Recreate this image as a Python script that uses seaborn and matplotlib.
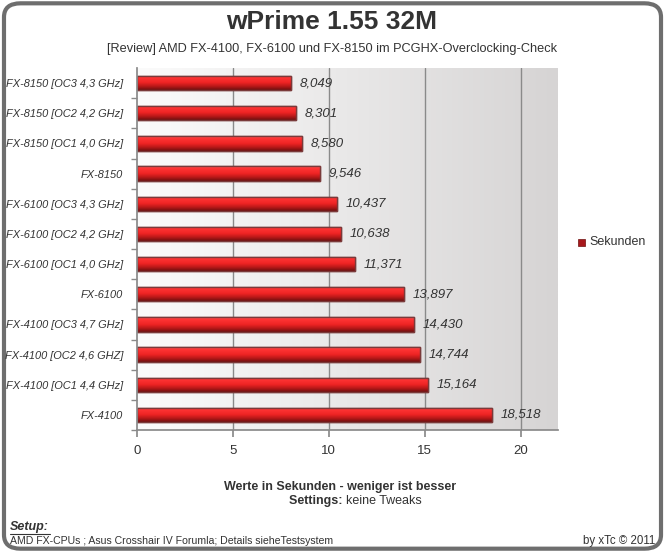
import numpy as np
import pandas as pd
import matplotlib
matplotlib.use("Agg")
import matplotlib.pyplot as plt
import seaborn as sns
from matplotlib.patches import FancyBboxPatch, Rectangle
from matplotlib.colors import LinearSegmentedColormap

categories = [
    "FX-8150 [OC3 4,3 GHz]",
    "FX-8150 [OC2 4,2 GHz]",
    "FX-8150 [OC1 4,0 GHz]",
    "FX-8150",
    "FX-6100 [OC3 4,3 GHz]",
    "FX-6100 [OC2 4,2 GHz]",
    "FX-6100 [OC1 4,0 GHz]",
    "FX-6100",
    "FX-4100 [OC3 4,7 GHz]",
    "FX-4100 [OC2 4,6 GHZ]",
    "FX-4100 [OC1 4,4 GHz]",
    "FX-4100",
]
seconds = [8.049, 8.301, 8.580, 9.546, 10.437, 10.638, 11.371, 13.897,
           14.430, 14.744, 15.164, 18.518]
x_ticks = [0, 5, 10, 15, 20]
series_name = "Sekunden"

df = pd.DataFrame({"cpu": categories, "sec": seconds})

sns.set_theme(style="white")
plt.rcParams["font.family"] = ["Liberation Sans", "DejaVu Sans"]

fig = plt.figure(figsize=(6.65, 5.52), dpi=100)
fig.patch.set_facecolor("white")

# rounded border
border = FancyBboxPatch((0.006, 0.006), 0.988, 0.988,
                        boxstyle="round,pad=0,rounding_size=0.025",
                        transform=fig.transFigure, facecolor="white",
                        edgecolor="#6e6e6e", linewidth=3.0, zorder=0)
fig.patches.append(border)

ax = fig.add_axes([137/665, 1-430/552, (558-137)/665, (430-68)/552])
ax.set_zorder(2)

sns.barplot(data=df, x="sec", y="cpu", orient="h", ax=ax, width=0.47,
            color="#e8242c", edgecolor="#7a3a3a", linewidth=1.0,
            saturation=1, zorder=3)

xlim = (0, 21.95)
ylim = ax.get_ylim()

# background gradient
bg = np.linspace(0, 1, 256).reshape(1, -1)
bg_cmap = LinearSegmentedColormap.from_list("bg", ["#fbfbfb", "#e9e8e8", "#d6d4d4"])
ax.imshow(bg, extent=[0, 1, 0, 1], transform=ax.transAxes, aspect="auto",
          cmap=bg_cmap, zorder=0)
ax.patch.set_visible(False)

# bar gradients
bar_cmap = LinearSegmentedColormap.from_list(
    "bar", [(0.0, "#ff5a5a"), (0.15, "#ff3434"), (0.5, "#ee2424"),
            (0.75, "#b81818"), (1.0, "#6e1010")])
grad = np.linspace(0, 1, 64).reshape(-1, 1)
for p in list(ax.patches):
    x0, y0 = p.get_x(), p.get_y()
    w, h = p.get_width(), p.get_height()
    ylo, yhi = min(y0, y0 + h), max(y0, y0 + h)
    im = ax.imshow(grad, extent=(x0, x0 + w, yhi, ylo), origin="upper",
                   aspect="auto", cmap=bar_cmap, zorder=3.5)
    im.set_clip_path(p)
    ax.add_patch(Rectangle((x0, y0), w, h, fill=False, edgecolor="#7a3a3a",
                           linewidth=1.0, zorder=4))

ax.set_xlim(*xlim)
ax.set_ylim(*ylim)

# gridlines
for t in x_ticks[1:]:
    ax.axvline(t, color="#8a8a8a", linewidth=1.0, zorder=1)

# value labels
for i, v in enumerate(seconds):
    ax.text(v + 0.45, i, f"{v:.3f}".replace(".", ","), va="center", ha="left",
            fontsize=9.5, style="italic", color="#333333", zorder=5)

# axes styling
for s in ["top", "right"]:
    ax.spines[s].set_visible(False)
ax.spines["left"].set_color("#8a8a8a")
ax.spines["bottom"].set_color("#8a8a8a")
ax.spines["left"].set_zorder(6)
ax.spines["bottom"].set_zorder(6)

ax.set_xticks(x_ticks)
ax.set_xticklabels([str(t) for t in x_ticks], fontsize=9.5, color="#333333")
ax.set_yticks(np.arange(len(categories)))
ax.set_yticklabels(categories, fontsize=7.9, style="italic", color="#333333")
ax.set_yticks(np.arange(len(categories)) + 0.5, minor=True)
ax.tick_params(axis="y", which="major", length=0, pad=10)
ax.tick_params(axis="y", which="minor", length=4, color="#8a8a8a", left=True)
ax.tick_params(axis="x", which="major", length=5, color="#8a8a8a", bottom=True, pad=6)
ax.set_xlabel("")
ax.set_ylabel("")

# titles
fig.text(332/665, 1-22/552, "wPrime 1.55 32M", ha="center", va="center",
         fontsize=19, fontweight="bold", color="#333333")
fig.text(332/665, 1-49/552,
         "[Review] AMD FX-4100, FX-6100 und FX-8150 im PCGHX-Overclocking-Check",
         ha="center", va="center", fontsize=9.2, color="#333333")

# legend
fig.patches.append(Rectangle((578/665, 1-246/552), 7/665, 7/552,
                             transform=fig.transFigure, facecolor="#a8181c",
                             edgecolor="#6e1010", linewidth=0.5))
fig.text(589/665, 1-242/552, series_name, ha="left", va="center",
         fontsize=9, color="#333333")

# axis caption
fig.text(340/665, 1-487/552, "Werte in Sekunden - weniger ist besser",
         ha="center", va="center", fontsize=9, fontweight="bold", color="#333333")
fig.text(346/665, 1-501/552, "Settings: ", ha="right", va="center",
         fontsize=9, fontweight="bold", color="#333333")
fig.text(346/665, 1-501/552, "keine Tweaks", ha="left", va="center",
         fontsize=9, color="#333333")

# footer
fig.text(10/665, 1-527/552, "Setup:", ha="left", va="center", fontsize=9,
         fontweight="bold", style="italic", color="#333333")
fig.add_artist(plt.Line2D([10/665, 50/665], [1-534/552, 1-534/552],
                          transform=fig.transFigure, color="#333333", linewidth=0.8))
fig.text(10/665, 1-541/552,
         "AMD FX-CPUs ; Asus Crosshair IV Forumla; Details sieheTestsystem",
         ha="left", va="center", fontsize=7.6, color="#333333")
fig.text(655/665, 1-541/552, "by xTc \u00a9 2011", ha="right", va="center",
         fontsize=8.3, color="#333333")

fig.savefig("out.png", dpi=100, facecolor="white")
